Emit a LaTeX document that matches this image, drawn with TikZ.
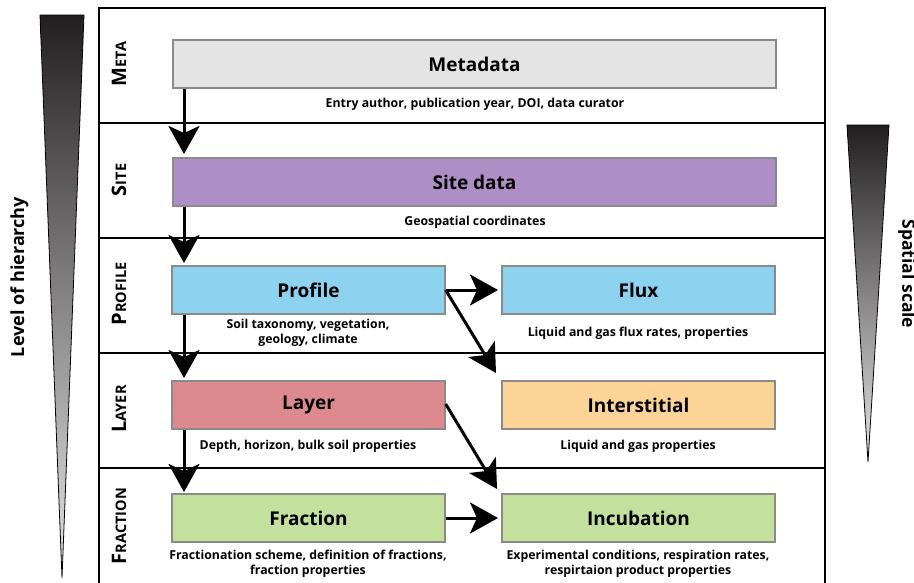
\documentclass[tikz,border=0pt]{standalone}
\usepackage{fontspec}
\setmainfont{Open Sans}
\usetikzlibrary{arrows.meta}
\definecolor{metac}{HTML}{E4E4E4}
\definecolor{sitec}{HTML}{AE8FC5}
\definecolor{profc}{HTML}{8DD3F0}
\definecolor{layc}{HTML}{DD8A8F}
\definecolor{intc}{HTML}{FCD497}
\definecolor{fracc}{HTML}{C3E19C}
\definecolor{boxline}{HTML}{8A8A8A}
\definecolor{triTop}{HTML}{231F20}
\definecolor{triBot}{HTML}{E6E6E6}
\newcommand{\bandlabel}[2]{{\fontsize{20}{20}\selectfont #1}{\fontsize{14.5}{14.5}\selectfont #2}}
\begin{document}
\begin{tikzpicture}[x=1pt,y=-1pt,
  databox/.style={draw=boxline,line width=1.3pt,minimum height=48pt,inner sep=0pt,font=\fontsize{19}{19}\selectfont\bfseries},
  widebox/.style={databox,minimum width=603pt},
  halfbox/.style={databox,minimum width=273pt},
  desc/.style={font=\fontsize{12.3}{15.5}\selectfont\bfseries,align=center,inner sep=0pt},
  band/.style={rotate=90,font=\bfseries,inner sep=0pt},
  flow/.style={line width=3pt,-{Stealth[length=28pt,width=31pt,inset=7pt]}},
  sep/.style={line width=1.5pt}]
\useasboundingbox (0,0) rectangle (914,582);
% frame
\draw[sep] (99,590) -- (99,8) -- (825,8) -- (825,590);
\foreach \yy in {123,238,353,468} \draw[sep] (99,\yy) -- (825,\yy);
% triangles
\shade[top color=triTop,bottom color=triBot] (40,15) -- (84,15) -- (62,578) -- cycle;
\draw[line width=0.8pt] (40,15) -- (84,15) -- (62,578) -- cycle;
\shade[top color=triTop,bottom color=triBot] (847,125) -- (889,125) -- (868,462) -- cycle;
\draw[line width=0.8pt] (847,125) -- (889,125) -- (868,462) -- cycle;
\node[rotate=90,font=\fontsize{18}{18}\selectfont\bfseries,inner sep=0pt] (loh) at (19.5,277) {Level of hierarchy};
\node[rotate=-90,font=\fontsize{17.5}{17.5}\selectfont\bfseries,inner sep=0pt] (ssc) at (907,274) {Spatial scale};
% band labels
\node[band] (lmeta) at (119,64) {\bandlabel{M}{ETA}};
\node[band] (lsite) at (119,180) {\bandlabel{S}{ITE}};
\node[band] (lprof) at (119,294) {\bandlabel{P}{ROFILE}};
\node[band] (llay) at (119,409) {\bandlabel{L}{AYER}};
\node[band] (lfrac) at (119,526) {\bandlabel{F}{RACTION}};
% boxes
\node[widebox,fill=metac] (meta) at (474.5,64) {Metadata};
\node[widebox,fill=sitec] (site) at (474.5,182) {Site data};
\node[halfbox,fill=profc] (prof) at (308.5,290) {Profile};
\node[halfbox,fill=profc] (flux) at (638.5,290) {Flux};
\node[halfbox,fill=layc] (lay) at (308.5,405) {Layer};
\node[halfbox,fill=intc] (inter) at (638.5,405) {Interstitial};
\node[halfbox,fill=fracc] (frac) at (308.5,518) {Fraction};
\node[halfbox,fill=fracc] (incu) at (638.5,518) {Incubation};
% descriptions
\node[desc] (dmeta) at (475,104) {Entry author, publication year, DOI, data curator};
\node[desc] (dsite) at (475,222) {Geospatial coordinates};
\node[desc] (dprof) at (308,333) {Soil taxonomy, vegetation,\\geology, climate};
\node[desc] (dflux) at (638,333) {Liquid and gas flux rates, properties};
\node[desc] (dlay) at (308,446) {Depth, horizon, bulk soil properties};
\node[desc] (dint) at (638,446) {Liquid and gas properties};
\node[desc] (dfrac) at (308,564) {Fractionation scheme, definition of fractions,\\fraction properties};
\node[desc] (dincu) at (638,564) {Experimental conditions, respiration rates,\\respirtaion product properties};
% coordinates for arrow ends
\coordinate (t1) at (184,154);
\coordinate (t2) at (184,263);
\coordinate (t3) at (184,378);
\coordinate (t4) at (184,492);
\coordinate (tf) at (498,290);
\coordinate (ti) at (496,373);
\coordinate (tc) at (497,489);
\coordinate (tu) at (498,518);
% arrows
\draw[flow] (meta.south west -| t1) -- (t1);
\draw[flow] (site.south west -| t1) -- (t2);
\draw[flow] (prof.south west -| t1) -- (t3);
\draw[flow] (lay.south west -| t1) -- (t4);
\draw[flow] (prof.east) -- (tf);
\draw[flow] (prof.east) -- (ti);
\draw[flow] ([yshift=1pt]lay.east) -- (tc);
\draw[flow] (frac.east) -- (tu);
\end{tikzpicture}
\end{document}
